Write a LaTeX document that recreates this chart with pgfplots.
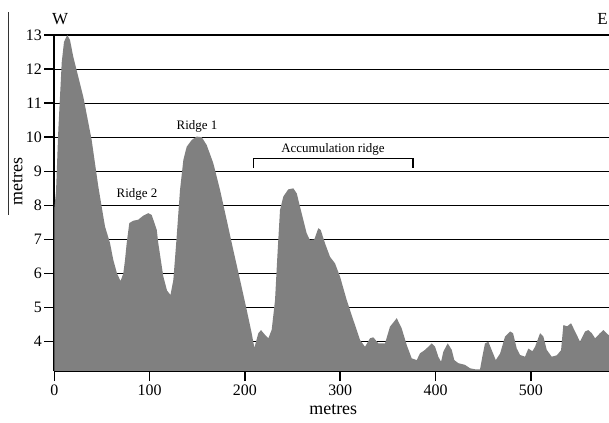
\documentclass[border=0pt]{standalone}
\usepackage{pgfplots}
\pgfplotsset{compat=1.18}
\usepackage{fontspec}
\setmainfont{Liberation Serif}
\definecolor{fillgray}{RGB}{128,128,128}
\begin{document}
\begin{tikzpicture}
\path[use as bounding box] (-54.3bp,-52bp) rectangle (554.7bp,371bp);
\begin{axis}[
  at={(0,0)}, anchor=south west,
  scale only axis, width=554.7bp, height=336bp,
  xmin=0, xmax=582, ymin=3.14, ymax=13,
  axis lines*=left,
  axis line style={line width=1.8pt, black},
  xtick={0,100,200,300,400,500},
  ytick={4,5,6,7,8,9,10,11,12,13},
  tick align=outside, major tick length=10bp,
  tick style={line width=1.5pt, black},
  ymajorgrids, grid style={line width=1.1pt, black},
  tick label style={font=\fontsize{16}{18}\selectfont},
  /pgf/number format/assume math mode=true,
  yticklabel style={xshift=1bp},
  clip=false,
]
\begin{scope}
\clip (axis cs:0,3.14) rectangle (axis cs:582,13.6);
\addplot[fill=fillgray, draw=none] coordinates {
(0,3.14) (0,7.9) (1.8,8.4) (4.2,10.2) (7.8,12.2) (10.2,12.8) (13.6,13.0) (16.5,12.85)
(19.9,12.36) (30.4,11.19) (39.2,9.92) (46.2,8.55) (53.2,7.38) (58.4,6.9)
(61.9,6.40) (65.8,6.0) (69.5,5.78) (72.4,6.0) (74.2,6.4) (76,6.9)
(78.7,7.48) (82.9,7.55) (88.1,7.58) (93.4,7.70) (98.6,7.77) (102.2,7.72)
(107.5,7.28) (109.1,6.89) (114.4,5.91) (118.3,5.5) (121.9,5.37) (124.9,5.81)
(128.4,7.08) (131.9,8.45) (135.4,9.33) (138.9,9.72) (144.2,9.92) (149.4,10.02)
(154.7,10.0) (159.9,9.77) (166.8,9.24) (173.9,8.45) (180.9,7.57) (187.8,6.69)
(194.9,5.81) (201.9,4.93) (207.1,4.25) (209.9,3.82) (214.1,4.25) (216.9,4.34)
(221.1,4.2) (224.6,4.1) (228.1,4.35) (231.6,5.22) (234,6.49) (236.8,7.86)
(240.3,8.26) (245.5,8.47) (250.8,8.50) (254.4,8.35) (257.8,7.96) (261.3,7.57)
(264.8,7.18) (268.3,6.98) (272.8,7.0) (277,7.33) (279.5,7.28) (284,6.89)
(289.3,6.49) (294.5,6.30) (299.8,5.91) (306.8,5.22) (313.7,4.64) (320.8,4.05)
(326,3.85) (331.3,4.1) (334.7,4.13) (340,3.95) (347,3.95) (352.2,4.44)
(359.3,4.69) (364.5,4.39) (369.8,3.90) (375,3.51) (380.3,3.46) (383.7,3.66)
(389,3.76) (396,3.95) (399.5,3.85) (402.9,3.56) (405.8,3.41) (408.2,3.71)
(412.8,3.95) (417,3.76) (419.7,3.46) (423.9,3.37) (430.9,3.32) (436.2,3.22)
(441.4,3.19) (446.7,3.19) (449.1,3.56) (451.9,3.95) (455.4,4.0) (459,3.75)
(463.2,3.46) (467.7,3.65) (472.9,4.15) (478.2,4.3) (481.3,4.25) (485.2,3.8)
(488.7,3.61) (493.9,3.56) (497.4,3.8) (501.6,3.72) (504.4,3.85) (509.7,4.25)
(513.1,4.15) (516.7,3.76) (521.9,3.56) (527.2,3.6) (531.7,3.75) (534.1,4.49)
(538,4.45) (542.2,4.54) (546.4,4.3) (551.6,4.0) (556.9,4.3) (560.3,4.34)
(563.9,4.25) (567.4,4.1) (572.6,4.25) (576.1,4.34) (581.3,4.2) (583,4.2) (583,3.14)
} \closedcycle;
\end{scope}
\node[font=\fontsize{13}{15}\selectfont] at (axis cs:149.7,10.33) {Ridge 1};
\node[font=\fontsize{13}{15}\selectfont] at (axis cs:86.8,8.33) {Ridge 2};
\node[font=\fontsize{13}{15}\selectfont] at (axis cs:292.4,9.63) {Accumulation ridge};
\draw[line width=1.6pt] (axis cs:208.8,9.09) -- (axis cs:208.8,9.38) -- (axis cs:376.1,9.38) -- (axis cs:376.1,9.09);
\node[font=\fontsize{17}{19}\selectfont] at (axis cs:6,13.47) {W};
\node[font=\fontsize{17}{19}\selectfont, anchor=east, inner sep=1bp] at (axis cs:582,13.47) {E};
\node[font=\fontsize{18}{20}\selectfont] at (axis cs:292.7,2.00) {metres};
\node[font=\fontsize{18}{20}\selectfont, rotate=90] at (axis cs:-38.6,8.69) {metres};
\draw[line width=0.8pt, black!80] (axis cs:-48.6,13.67) -- (axis cs:-48.6,7.72);
\end{axis}
\end{tikzpicture}
\end{document}
